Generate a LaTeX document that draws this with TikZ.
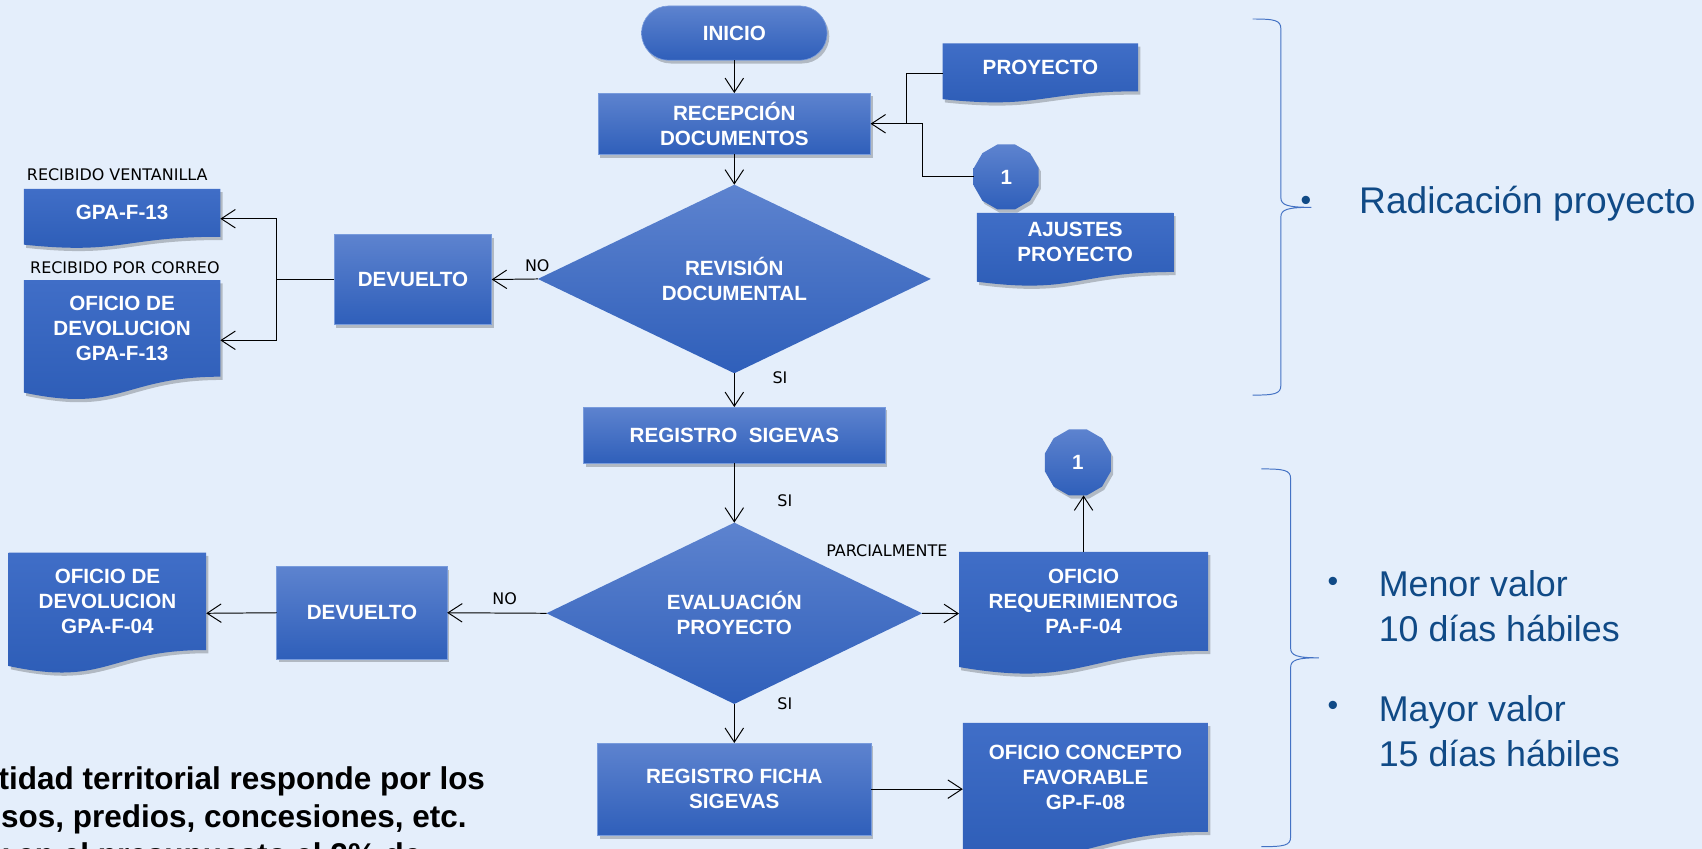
\documentclass[tikz,border=0pt]{standalone}
\usepackage{fontspec}
\setmainfont{Liberation Sans}
\newfontfamily\dvs{DejaVu Sans}
\usetikzlibrary{arrows.meta,calc,shapes.geometric,shadows}

\definecolor{bgc}{RGB}{228,238,251}
\definecolor{btop}{RGB}{93,131,207}
\definecolor{bbot}{RGB}{47,95,186}
\definecolor{dtop}{RGB}{64,110,199}
\definecolor{dbot}{RGB}{44,92,182}
\definecolor{bedge}{RGB}{120,155,220}
\definecolor{navy}{RGB}{16,74,134}
\definecolor{brc}{RGB}{68,114,196}

\tikzset{
  shad/.style={drop shadow={shadow xshift=2pt,shadow yshift=-3pt,opacity=0.22,fill=black}},
  boxtxt/.style={text=white,font=\fontsize{19}{23}\selectfont\bfseries,align=center,inner sep=0pt,outer sep=0pt},
  procbox/.style={rectangle,boxtxt,top color=btop,bottom color=bbot,draw=bedge,line width=0.6pt,shad},
  termbox/.style={procbox,rounded corners=25pt},
  decbox/.style={diamond,boxtxt,top color=btop,bottom color=bbot},
  conbox/.style={regular polygon,regular polygon sides=12,boxtxt,top color=btop,bottom color=bbot,shad},
  docbb/.style={rectangle,inner sep=0pt,outer sep=0pt,draw=none,fill=none},
  docfill/.style={top color=dtop,bottom color=dbot,shad},
  lbl/.style={font=\dvs\fontsize{14.7}{17}\selectfont,text=black,inner sep=0pt},
  rtxt/.style={font=\fontsize{33}{42}\selectfont,text=navy,inner sep=0pt,align=left},
  bul/.style={font=\fontsize{28}{30}\selectfont,text=navy,inner sep=0pt},
  btxt/.style={font=\fontsize{29}{35}\selectfont\bfseries,text=black,inner sep=0pt},
  ln/.style={draw=black,line width=0.9pt},
  arr/.style={ln,-{Straight Barb[length=13pt,width=17pt]}},
  brace/.style={draw=brc,line width=0.9pt}
}

% name, cx, top, W, H, text
\newcommand{\docshape}[6]{%
  \node[docbb,minimum width=#4pt,minimum height=#5pt] (#1) at (#2,#3+#5/2) {};
  \path[docfill] (#1.north west) -- (#1.north east) -- ($(#1.north east)+(0,0.802*#5)$)
     .. controls ($(#1.north)+(0,0.802*#5)$) and ($(#1.north)+(0,1.107*#5)$) ..
     ($(#1.north west)+(0,0.934*#5)$) -- cycle;
  \node[boxtxt] (#1-t) at ($(#1.north)+(0,0.401*#5)$) {#6};
}

\newcommand{\bracepath}[6]{% x0, xv, xt, ytop, ymid, ybot
  \draw[brace] (#1,#4) .. controls (#2-6,#4) and (#2,#4+1) .. (#2,#4+9)
    -- (#2,#5-9) .. controls (#2,#5-2) and (#2+6,#5) .. (#3,#5)
    .. controls (#2+6,#5) and (#2,#5+2) .. (#2,#5+9)
    -- (#2,#6-9) .. controls (#2,#6-1) and (#2-6,#6) .. (#1,#6);
}

\begin{document}
\begin{tikzpicture}[x=1pt,y=-1pt]
\useasboundingbox (0,0) rectangle (1568,782);
\fill[bgc] (0,0) rectangle (1568,782);

% main column
\node[termbox,minimum width=171pt,minimum height=50pt] (inicio) at (676.5,30.5) {INICIO};
\node[procbox,minimum width=251pt,minimum height=56.5pt] (recep) at (676.5,114) {RECEPCIÓN\\DOCUMENTOS};
\node[decbox,minimum width=362pt,minimum height=138pt] (rev) at (676.5,257) {REVISIÓN\\DOCUMENTAL};
\node[procbox,minimum width=278pt,minimum height=52pt] (regs) at (676.5,401) {REGISTRO\ \ SIGEVAS};
\node[decbox,minimum width=346pt,minimum height=167pt] (eval) at (676.5,565) {EVALUACIÓN\\PROYECTO};
\node[procbox,minimum width=252pt,minimum height=85pt] (regficha) at (676.5,727) {REGISTRO FICHA\\SIGEVAS};

% left side
\node[procbox,minimum width=145pt,minimum height=83pt] (dev1) at (380.5,257.5) {DEVUELTO};
\node[procbox,minimum width=157pt,minimum height=85pt] (dev2) at (333.5,564.5) {DEVUELTO};
\docshape{gpa13}{112.5}{174}{181}{55}{GPA-F-13}
\docshape{ofi13}{112.5}{258}{181}{111}{OFICIO DE\\DEVOLUCION\\GPA-F-13}
\docshape{ofi04}{99}{509}{182}{112}{OFICIO DE\\DEVOLUCION\\GPA-F-04}

% right side
\docshape{proy}{958.5}{40}{180}{55}{PROYECTO}
\node[conbox,minimum size=62pt] (c1) at (927,163) {1};
\docshape{ajustes}{990.5}{196}{181}{68}{AJUSTES\\PROYECTO}
\node[conbox,minimum size=63pt] (c2) at (993,426) {1};
\docshape{ofireq}{998.25}{508.5}{229.5}{113.5}{OFICIO\\REQUERIMIENTOG\\PA-F-04}
\docshape{concepto}{1000}{666}{226}{125}{OFICIO CONCEPTO\\FAVORABLE\\GP-F-08}

% labels
\node[lbl,anchor=west] (lv) at (24.6,161) {RECIBIDO VENTANILLA};
\node[lbl,anchor=west] (lc) at (27.6,247) {RECIBIDO POR CORREO};
\node[lbl] (no1) at (495,245) {NO};
\node[lbl] (no2) at (465,552) {NO};
\node[lbl] (si1) at (718.6,348) {SI};
\node[lbl] (si2) at (723,461) {SI};
\node[lbl] (si3) at (723,648.6) {SI};
\node[lbl] (parc) at (817,507) {PARCIALMENTE};

% connectors
\coordinate (jx) at (835,0);
\coordinate (jy) at (850,0);
\coordinate (jl) at (255,257.5);
\draw[arr] (inicio.south) -- (recep.north);
\draw[arr] (recep.south) -- (rev.north);
\draw[ln] (proy.west) -- (proy.west -| jx) |- (recep.east);
\draw[arr] (c1.west) -- (c1.west -| jy) |- (recep.east);
\draw[arr] (rev.west) -- (dev1.east);
\draw[ln] (dev1.west) -- (jl);
\draw[arr] (jl) |- (gpa13.east);
\draw[arr] (jl) |- (ofi13.east);
\draw[arr] (rev.south) -- (regs.north);
\draw[arr] (regs.south) -- (eval.north);
\draw[arr] (eval.east) -- (ofireq.west);
\draw[arr] (ofireq.north) -- (ofireq.north |- c2.south);
\draw[arr] (eval.west) -- (dev2.east);
\draw[arr] (dev2.west) -- (ofi04.east);
\draw[arr] (eval.south) -- (regficha.north);
\draw[arr] (regficha.east) -- (regficha.east -| concepto.west);

% braces and notes
\bracepath{1154}{1180}{1208}{17.5}{191}{364}
\bracepath{1162}{1189}{1215}{432}{606}{780}
\node[bul] (b0) at (1203,187) {•};
\node[rtxt,anchor=west,font=\fontsize{34.2}{42}\selectfont] (rad) at (1252,188) {Radicación proyecto};
\node[bul] (b1) at (1228,538) {•};
\node[rtxt,anchor=west] (menor) at (1270,558.5) {Menor valor\\10 días hábiles};
\node[bul] (b2) at (1228,653) {•};
\node[rtxt,anchor=west] (mayor) at (1270,673.5) {Mayor valor\\15 días hábiles};

% bottom-left text (cut by the picture edge, as in the reference)
\node[btxt,anchor=base east] (t1) at (447,727) {tidad territorial responde por los};
\node[btxt,anchor=base east] (t2) at (430,762) {sos, predios, concesiones, etc.};
\node[btxt,anchor=base east] (t3) at (388.5,797) {y en el presupuesto el 2\% de};
\end{tikzpicture}
\end{document}
